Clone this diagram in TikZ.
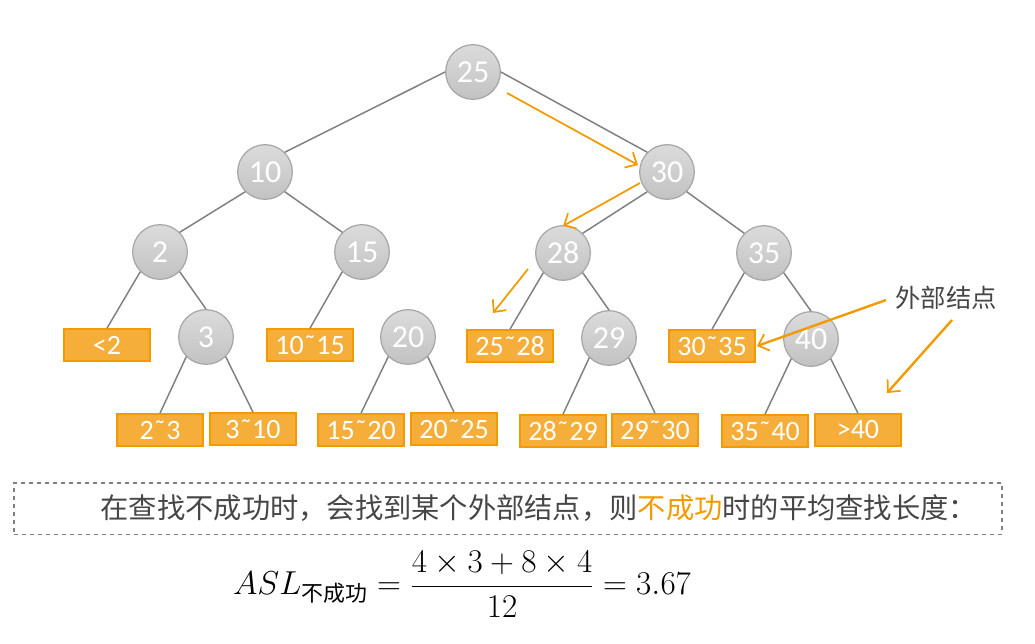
\documentclass[tikz,border=0pt]{standalone}
\usepackage{amsmath}
\usepackage{fontspec}
\setmainfont{Carlito}
\newfontfamily\cjk{Noto Sans CJK SC}
\usetikzlibrary{arrows.meta}
\definecolor{edgegray}{HTML}{7F7F7F}
\definecolor{circborder}{HTML}{A6A6A6}
\definecolor{boxfill}{HTML}{F5AE3A}
\definecolor{boxborder}{HTML}{F29A00}
\definecolor{arrorange}{HTML}{F29A00}
\definecolor{txtgray}{HTML}{464646}
\tikzset{
  inner/.style={circle, minimum size=41pt, inner sep=0pt, draw=circborder, line width=0.9pt,
     top color=gray!28, bottom color=gray!48, text=white, font=\fontsize{24}{26}\selectfont},
  ext/.style={rectangle, minimum width=64.5pt, minimum height=24pt, inner sep=0pt, draw=boxborder, line width=1.2pt,
     fill=boxfill, text=white, font=\fontsize{21}{23}\selectfont},
  edge/.style={draw=edgegray, line width=1.1pt},
  hint/.style={draw=arrorange, line width=1.3pt, -{Straight Barb[length=7pt,width=13pt,line width=1.3pt]}},
}
\begin{document}
\begin{tikzpicture}[x=0.75pt,y=-0.75pt]
\useasboundingbox (0,0) rectangle (1035,643);
% internal nodes
\node[inner] (n25) at (473,72) {25};
\node[inner] (n10) at (265,172) {10};
\node[inner] (n30) at (667,172) {30};
\node[inner] (n2) at (160,252) {2};
\node[inner] (n15) at (362,252) {15};
\node[inner] (n28) at (563,253) {28};
\node[inner] (n35) at (764,253) {35};
\node[inner] (n3) at (206,337) {3};
\node[inner] (n20) at (408,337) {20};
\node[inner] (n29) at (609,338) {29};
\node[inner] (n40) at (811,339) {40};
% external nodes
\node[ext] (e1) at (107,345) {<2};
\node[ext] (e2) at (310,345) {10˜15};
\node[ext] (e3) at (510,346) {25˜28};
\node[ext] (e4) at (712,346) {30˜35};
\node[ext] (e5) at (160,430) {2˜3};
\node[ext] (e6) at (253,429) {3˜10};
\node[ext] (e7) at (361,430) {15˜20};
\node[ext] (e8) at (454,429) {20˜25};
\node[ext] (e9) at (563,431) {28˜29};
\node[ext] (e10) at (655,430) {29˜30};
\node[ext] (e11) at (765,431) {35˜40};
\node[ext] (e12) at (858,430) {>40};
% edges
\draw[edge] (n25.west) -- (n10.north east);
\draw[edge] (n25.east) -- (n30.north west);
\draw[edge] (n10.south west) -- (n2.north east);
\draw[edge] (n10.south east) -- (n15.north west);
\draw[edge] (n30.south west) -- (n28.north east);
\draw[edge] (n30.south east) -- (n35.north west);
\draw[edge] (n2.south west) -- (e1.north);
\draw[edge] (n2.south east) -- (n3.north);
\draw[edge] (n15.south west) -- (e2.north);
\draw[edge] (n28.south west) -- (e3.north);
\draw[edge] (n28.south east) -- (n29.north);
\draw[edge] (n35.south west) -- (e4.north);
\draw[edge] (n35.south east) -- (n40.north);
\draw[edge] (n3.south west) -- (e5.north);
\draw[edge] (n3.south east) -- (e6.north);
\draw[edge] (n20.south west) -- (e7.north);
\draw[edge] (n20.south east) -- (e8.north);
\draw[edge] (n29.south west) -- (e9.north);
\draw[edge] (n29.south east) -- (e10.north);
\draw[edge] (n40.south west) -- (e11.north);
\draw[edge] (n40.south east) -- (e12.north);
% search path arrows
\coordinate (a1s) at (507,93);  \coordinate (a1e) at (638,165);
\coordinate (a2s) at (640,183); \coordinate (a2e) at (563,226);
\coordinate (a3s) at (528,269); \coordinate (a3e) at (493,313);
\draw[hint] (a1s) -- (a1e);
\draw[hint] (a2s) -- (a2e);
\draw[hint] (a3s) -- (a3e);
% label
\node[text=txtgray, font=\cjk\fontsize{19}{21}\selectfont] (lbl) at (946,298) {外部结点};
\coordinate (b1s) at (886,300); \coordinate (b1e) at (757,346);
\coordinate (b2s) at (952,320); \coordinate (b2e) at (887,393);
\draw[hint, line width=1.8pt] (b1s) -- (b1e);
\draw[hint, line width=1.8pt] (b2s) -- (b2e);
% dashed box
\node[draw=gray, dashed, line width=1pt, minimum width=741pt, minimum height=38.5pt, inner sep=0pt] (note) at (508,508.5) {};
\node[anchor=west, text=txtgray, font=\cjk\fontsize{21.2}{23}\selectfont] (notetxt) at (96,508) {在查找不成功时，会找到某个外部结点，则\textcolor{arrorange}{不成功}时的平均查找长度：};
% formula
\node[font=\fontsize{23.5}{27}\selectfont] (formula) at (462,584) {$ASL_{\text{\cjk 不成功}} = \dfrac{4\times 3+8\times 4}{12} = 3.67$};
\end{tikzpicture}
\end{document}
